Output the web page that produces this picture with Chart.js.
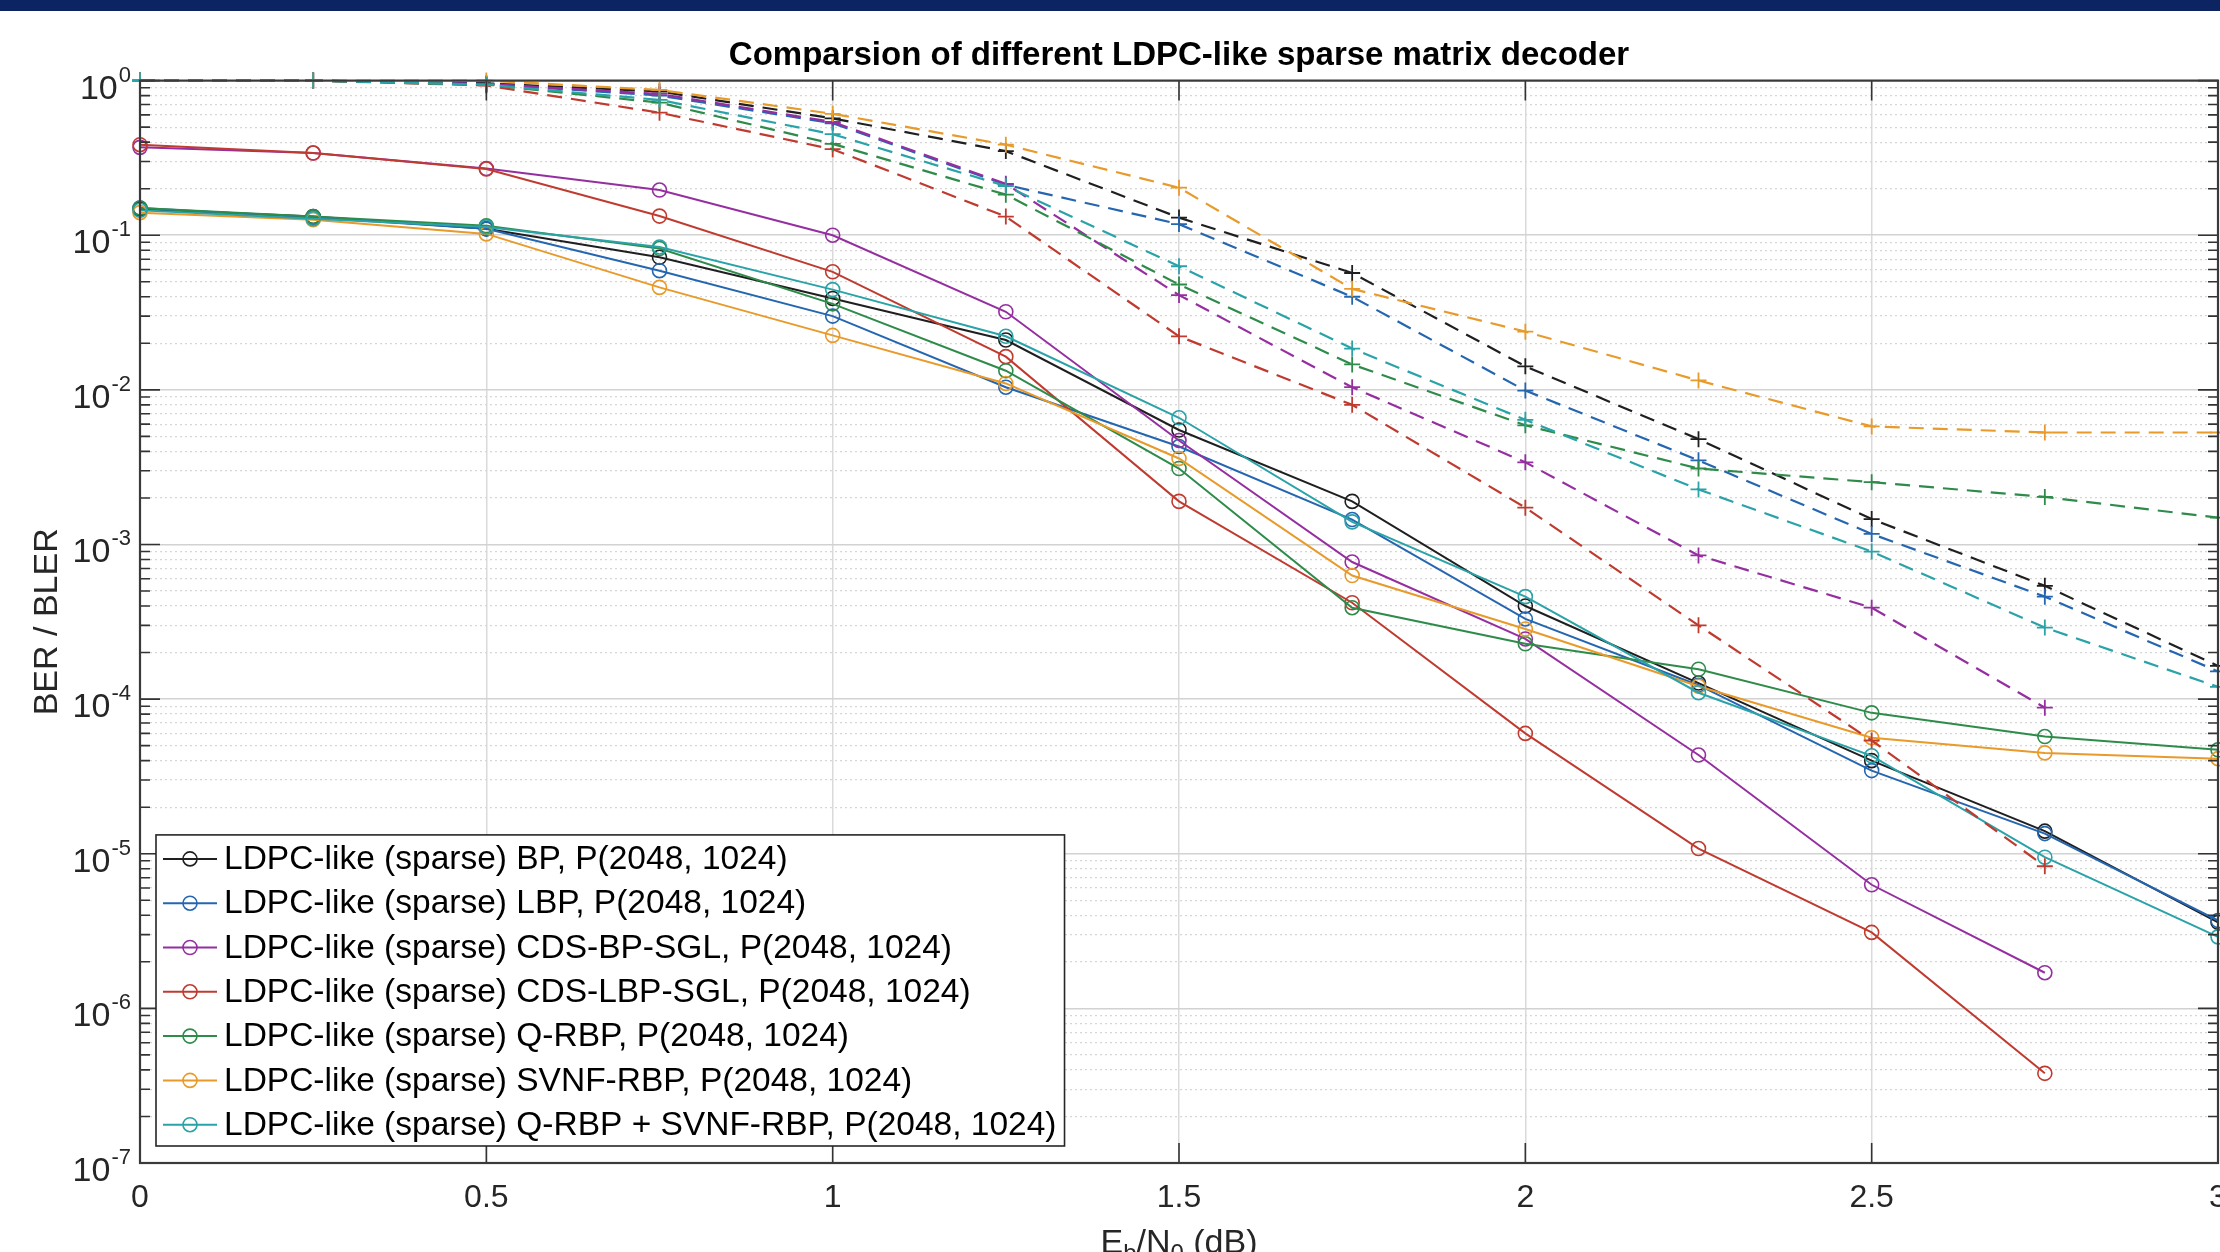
<!DOCTYPE html>
<html>
<head>
<meta charset="utf-8">
<title>LDPC-like decoder comparison</title>
<script src="https://cdn.jsdelivr.net/npm/chart.js@4.4.0/dist/chart.umd.min.js"></script>
<style>
    html, body { margin: 0; padding: 0; background: #ffffff; overflow: hidden; }
    #chart-wrap { position: relative; width: 2220px; height: 1252px; }
</style>
</head>
<body>
<div id="chart-wrap"><canvas id="ldpc-ber-chart"></canvas></div>
<script>
const FONT = '"Liberation Sans", Arial, Helvetica, sans-serif';

// Eb/N0 points (dB)
const ebn0 = [0, 0.25, 0.5, 0.75, 1, 1.25, 1.5, 1.75, 2, 2.25, 2.5, 2.75, 3];
const xTickLabels = ['0', '0.5', '1', '1.5', '2', '2.5', '3'];
const yDecades = [-7, -6, -5, -4, -3, -2, -1, 0];
const yMinorSteps = [2, 3, 4, 5, 6, 7, 8, 9];

const decoderNames = [
    'LDPC-like (sparse) BP, P(2048, 1024)',
    'LDPC-like (sparse) LBP, P(2048, 1024)',
    'LDPC-like (sparse) CDS-BP-SGL, P(2048, 1024)',
    'LDPC-like (sparse) CDS-LBP-SGL, P(2048, 1024)',
    'LDPC-like (sparse) Q-RBP, P(2048, 1024)',
    'LDPC-like (sparse) SVNF-RBP, P(2048, 1024)',
    'LDPC-like (sparse) Q-RBP + SVNF-RBP, P(2048, 1024)'
];
const decoderColors = ['#1f1f1f', '#2566b0', '#952fa0', '#bf3b30', '#2e8b4a', '#e89a2a', '#2aa3a8'];

// BER (solid lines, circle markers)
const berBP     = [0.148, 0.132, 0.110, 0.072, 0.039, 0.021, 0.0055, 0.0019, 0.00040, 0.000127, 0.000040, 0.0000140, 0.0000036];
const berLBP    = [0.150, 0.130, 0.110, 0.059, 0.030, 0.0104, 0.0043, 0.00145, 0.00033, 0.000123, 0.0000345, 0.0000135, 0.0000037];
const berCdsBP  = [0.370, 0.340, 0.270, 0.196, 0.100, 0.032, 0.0047, 0.00077, 0.000245, 0.0000435, 0.0000063, 0.0000017, null];
const berCdsLBP = [0.385, 0.340, 0.268, 0.133, 0.058, 0.0164, 0.0019, 0.00042, 0.000060, 0.0000108, 0.0000031, 0.00000038, null];
const berQRBP   = [0.150, 0.132, 0.115, 0.082, 0.036, 0.0133, 0.0031, 0.00039, 0.000228, 0.000156, 0.0000815, 0.0000573, 0.000047];
const berSVNF   = [0.140, 0.126, 0.102, 0.046, 0.0225, 0.0110, 0.0036, 0.00063, 0.000284, 0.000121, 0.0000563, 0.0000449, 0.0000412];
const berQSVNF  = [0.145, 0.128, 0.113, 0.084, 0.0445, 0.0222, 0.0066, 0.00140, 0.00046, 0.000110, 0.0000430, 0.0000095, 0.0000029];

// BLER (dashed lines, plus markers)
const blerBP     = [1, 1, 0.96, 0.85, 0.57, 0.35, 0.130, 0.057, 0.0142, 0.0048, 0.00146, 0.00054, 0.000164];
const blerLBP    = [1, 1, 0.95, 0.80, 0.53, 0.212, 0.118, 0.040, 0.0099, 0.0035, 0.00117, 0.00046, 0.000151];
const blerCdsBP  = [1, 1, 0.95, 0.82, 0.54, 0.215, 0.041, 0.0104, 0.0034, 0.00085, 0.00039, 0.000088, null];
const blerCdsLBP = [1, 1, 0.93, 0.62, 0.36, 0.132, 0.0222, 0.0080, 0.00173, 0.00030, 0.000054, 0.0000083, null];
const blerQRBP   = [1, 1, 0.94, 0.72, 0.39, 0.183, 0.048, 0.0146, 0.0059, 0.0031, 0.00253, 0.00203, 0.00149];
const blerSVNF   = [1, 1, 1.0, 0.87, 0.61, 0.385, 0.203, 0.045, 0.0238, 0.0115, 0.0058, 0.0053, 0.0053];
const blerQSVNF  = [1, 1, 0.94, 0.75, 0.45, 0.208, 0.063, 0.0185, 0.0064, 0.00227, 0.00090, 0.00029, 0.00012];

const berSeries = [berBP, berLBP, berCdsBP, berCdsLBP, berQRBP, berSVNF, berQSVNF];
const blerSeries = [blerBP, blerLBP, blerCdsBP, blerCdsLBP, blerQRBP, blerSVNF, blerQSVNF];

function toPoints(vals) {
    return ebn0.map((x, k) => ({x: x, y: vals[k]}));
}

function isDecade(v) {
    const l = Math.log10(v);
    return Math.abs(l - Math.round(l)) < 1e-6;
}

// every decade plus 2..9 inside it
const yTickValues = [];
yDecades.forEach(d => {
    yTickValues.push(Math.pow(10, d));
    if (d < 0) {
        yMinorSteps.forEach(m => yTickValues.push(Number((m * Math.pow(10, d)).toPrecision(6))));
    }
});
yTickValues.sort((a, b) => a - b);

const datasets = [];
berSeries.forEach((vals, i) => {
    datasets.push({
        label: decoderNames[i],
        data: toPoints(vals),
        borderColor: decoderColors[i],
        backgroundColor: 'rgba(0,0,0,0)',
        borderWidth: 2,
        pointStyle: 'circle',
        pointRadius: 7,
        pointBorderWidth: 1.6,
        pointBackgroundColor: 'rgba(0,0,0,0)',
        pointBorderColor: decoderColors[i],
        tension: 0,
        clip: false,
        inLegend: true
    });
});
blerSeries.forEach((vals, i) => {
    datasets.push({
        label: decoderNames[i] + ' BLER',
        data: toPoints(vals),
        borderColor: decoderColors[i],
        backgroundColor: 'rgba(0,0,0,0)',
        borderWidth: 2.2,
        borderDash: [15, 9],
        pointStyle: 'cross',
        pointRadius: 8,
        pointBorderWidth: 1.8,
        pointBorderColor: decoderColors[i],
        tension: 0,
        clip: false,
        inLegend: false
    });
});
// later series are drawn on top, like the original plot
datasets.forEach((d, i) => { d.order = datasets.length - i; });

// box, inward ticks, tick labels, Eb/N0 label, legend
const matlabAxes = {
    id: 'matlabAxes',
    beforeDraw(chart) {
        const ctx = chart.ctx;
        ctx.save();
        ctx.fillStyle = '#ffffff';
        ctx.fillRect(0, 0, chart.width, chart.height);
        ctx.fillStyle = '#0c2461';
        ctx.fillRect(0, 0, chart.width, 11);
        ctx.restore();
    },
    afterDatasetsDraw(chart) {
        const ctx = chart.ctx;
        const area = chart.chartArea;
        const xs = chart.scales.x;
        const ys = chart.scales.y;
        ctx.save();

        ctx.strokeStyle = '#333333';
        ctx.lineWidth = 1.6;
        ys.ticks.forEach(t => {
            const py = ys.getPixelForValue(t.value);
            const len = isDecade(t.value) ? 20 : 10;
            ctx.beginPath();
            ctx.moveTo(area.left, py);
            ctx.lineTo(area.left + len, py);
            ctx.moveTo(area.right, py);
            ctx.lineTo(area.right - len, py);
            ctx.stroke();
        });
        xs.ticks.forEach(t => {
            const px = xs.getPixelForValue(t.value);
            ctx.beginPath();
            ctx.moveTo(px, area.bottom);
            ctx.lineTo(px, area.bottom - 20);
            ctx.moveTo(px, area.top);
            ctx.lineTo(px, area.top + 20);
            ctx.stroke();
        });

        ctx.lineWidth = 2.2;
        ctx.strokeStyle = '#3a3a3a';
        ctx.strokeRect(area.left, area.top, area.right - area.left, area.bottom - area.top);

        ctx.fillStyle = '#262626';

        // x tick labels
        ctx.font = '32px ' + FONT;
        ctx.textAlign = 'center';
        ctx.textBaseline = 'middle';
        xs.ticks.forEach((t, i) => {
            ctx.fillText(xTickLabels[i], xs.getPixelForValue(t.value), area.bottom + 35);
        });

        // y tick labels as 10^n
        ctx.textBaseline = 'alphabetic';
        ctx.textAlign = 'right';
        const labelRight = area.left - 9;
        yDecades.forEach(d => {
            const py = ys.getPixelForValue(Math.pow(10, d));
            const exp = String(d);
            ctx.font = '22px ' + FONT;
            const ew = ctx.measureText(exp).width;
            ctx.fillText(exp, labelRight, py + 1);
            ctx.font = '34px ' + FONT;
            ctx.fillText('10', labelRight - ew - 1, py + 18);
        });

        // x axis title with subscripts
        const parts = [['E', 34, 0], ['b', 24, 8], ['/N', 34, 0], ['0', 24, 8], [' (dB)', 34, 0]];
        let total = 0;
        parts.forEach(p => {
            ctx.font = p[1] + 'px ' + FONT;
            total += ctx.measureText(p[0]).width;
        });
        let cx = (area.left + area.right) / 2 - total / 2;
        ctx.textAlign = 'left';
        parts.forEach(p => {
            ctx.font = p[1] + 'px ' + FONT;
            ctx.fillText(p[0], cx, 1253 + p[2]);
            cx += ctx.measureText(p[0]).width;
        });
        ctx.restore();
    },
    afterDraw(chart) {
        const ctx = chart.ctx;
        const area = chart.chartArea;
        const items = chart.data.datasets.filter(d => d.inLegend);
        const rowH = 44.3;
        ctx.save();
        ctx.font = '33.5px ' + FONT;
        let maxW = 0;
        items.forEach(d => { maxW = Math.max(maxW, ctx.measureText(d.label).width); });
        const boxW = 68 + maxW + 8;
        const boxH = items.length * rowH + 1;
        const left = area.left + 16;
        const top = area.bottom - 17 - boxH;

        ctx.fillStyle = '#ffffff';
        ctx.fillRect(left, top, boxW, boxH);
        ctx.strokeStyle = '#262626';
        ctx.lineWidth = 1.6;
        ctx.strokeRect(left, top, boxW, boxH);

        ctx.textBaseline = 'middle';
        ctx.textAlign = 'left';
        items.forEach((d, i) => {
            const cy = top + 24 + i * rowH;
            ctx.strokeStyle = d.borderColor;
            ctx.lineWidth = 2;
            ctx.beginPath();
            ctx.moveTo(left + 7, cy);
            ctx.lineTo(left + 61, cy);
            ctx.stroke();
            ctx.lineWidth = 1.6;
            ctx.beginPath();
            ctx.arc(left + 34, cy, 7, 0, Math.PI * 2);
            ctx.stroke();
            ctx.fillStyle = '#000000';
            ctx.fillText(d.label, left + 68, cy + 1);
        });
        ctx.restore();
    }
};

Chart.defaults.font.family = FONT;

const config = {
    type: 'line',
    data: {datasets: datasets},
    plugins: [matlabAxes],
    options: {
        responsive: true,
        maintainAspectRatio: false,
        animation: false,
        events: [],
        layout: {autoPadding: false, padding: {left: 0, right: 2, top: 0, bottom: 0}},
        plugins: {
            legend: {display: false},
            tooltip: {enabled: false},
            title: {
                display: true,
                fullSize: false,
                text: 'Comparsion of different LDPC-like sparse matrix decoder',
                color: '#000000',
                font: {size: 33, weight: 'bold', family: FONT},
                padding: {top: 36, bottom: 5}
            }
        },
        scales: {
            x: {
                type: 'linear',
                min: 0,
                max: 3,
                ticks: {
                    display: false,
                    stepSize: 0.5,
                    autoSkip: false
                },
                grid: {
                    drawTicks: false,
                    color: '#dadada',
                    lineWidth: 1.5
                },
                border: {display: false},
                afterFit: (scale) => {
                    scale.height = 89;
                    scale.paddingLeft = 0;
                    scale.paddingRight = 0;
                }
            },
            y: {
                type: 'logarithmic',
                min: 1e-7,
                max: 1,
                afterBuildTicks: (scale) => {
                    scale.ticks = yTickValues.map(v => ({value: v, major: isDecade(v)}));
                },
                ticks: {display: false, autoSkip: false},
                grid: {
                    drawTicks: false,
                    color: (c) => (c.tick && isDecade(c.tick.value)) ? '#d2d2d2' : '#d6d6d6',
                    lineWidth: (c) => (c.tick && isDecade(c.tick.value)) ? 1.5 : 1.2
                },
                border: {
                    display: false,
                    dash: (c) => (c.tick && isDecade(c.tick.value)) ? [] : [2, 3]
                },
                title: {
                    display: true,
                    text: 'BER / BLER',
                    color: '#262626',
                    font: {size: 34, family: FONT},
                    padding: {top: 27, bottom: 0}
                },
                afterFit: (scale) => {
                    scale.width = 140;
                    scale.paddingTop = 0;
                    scale.paddingBottom = 0;
                }
            }
        }
    }
};

var ctx = document.getElementById('ldpc-ber-chart').getContext('2d');
window.ldpcBerChart = new Chart(ctx, config);
</script>
</body>
</html>
